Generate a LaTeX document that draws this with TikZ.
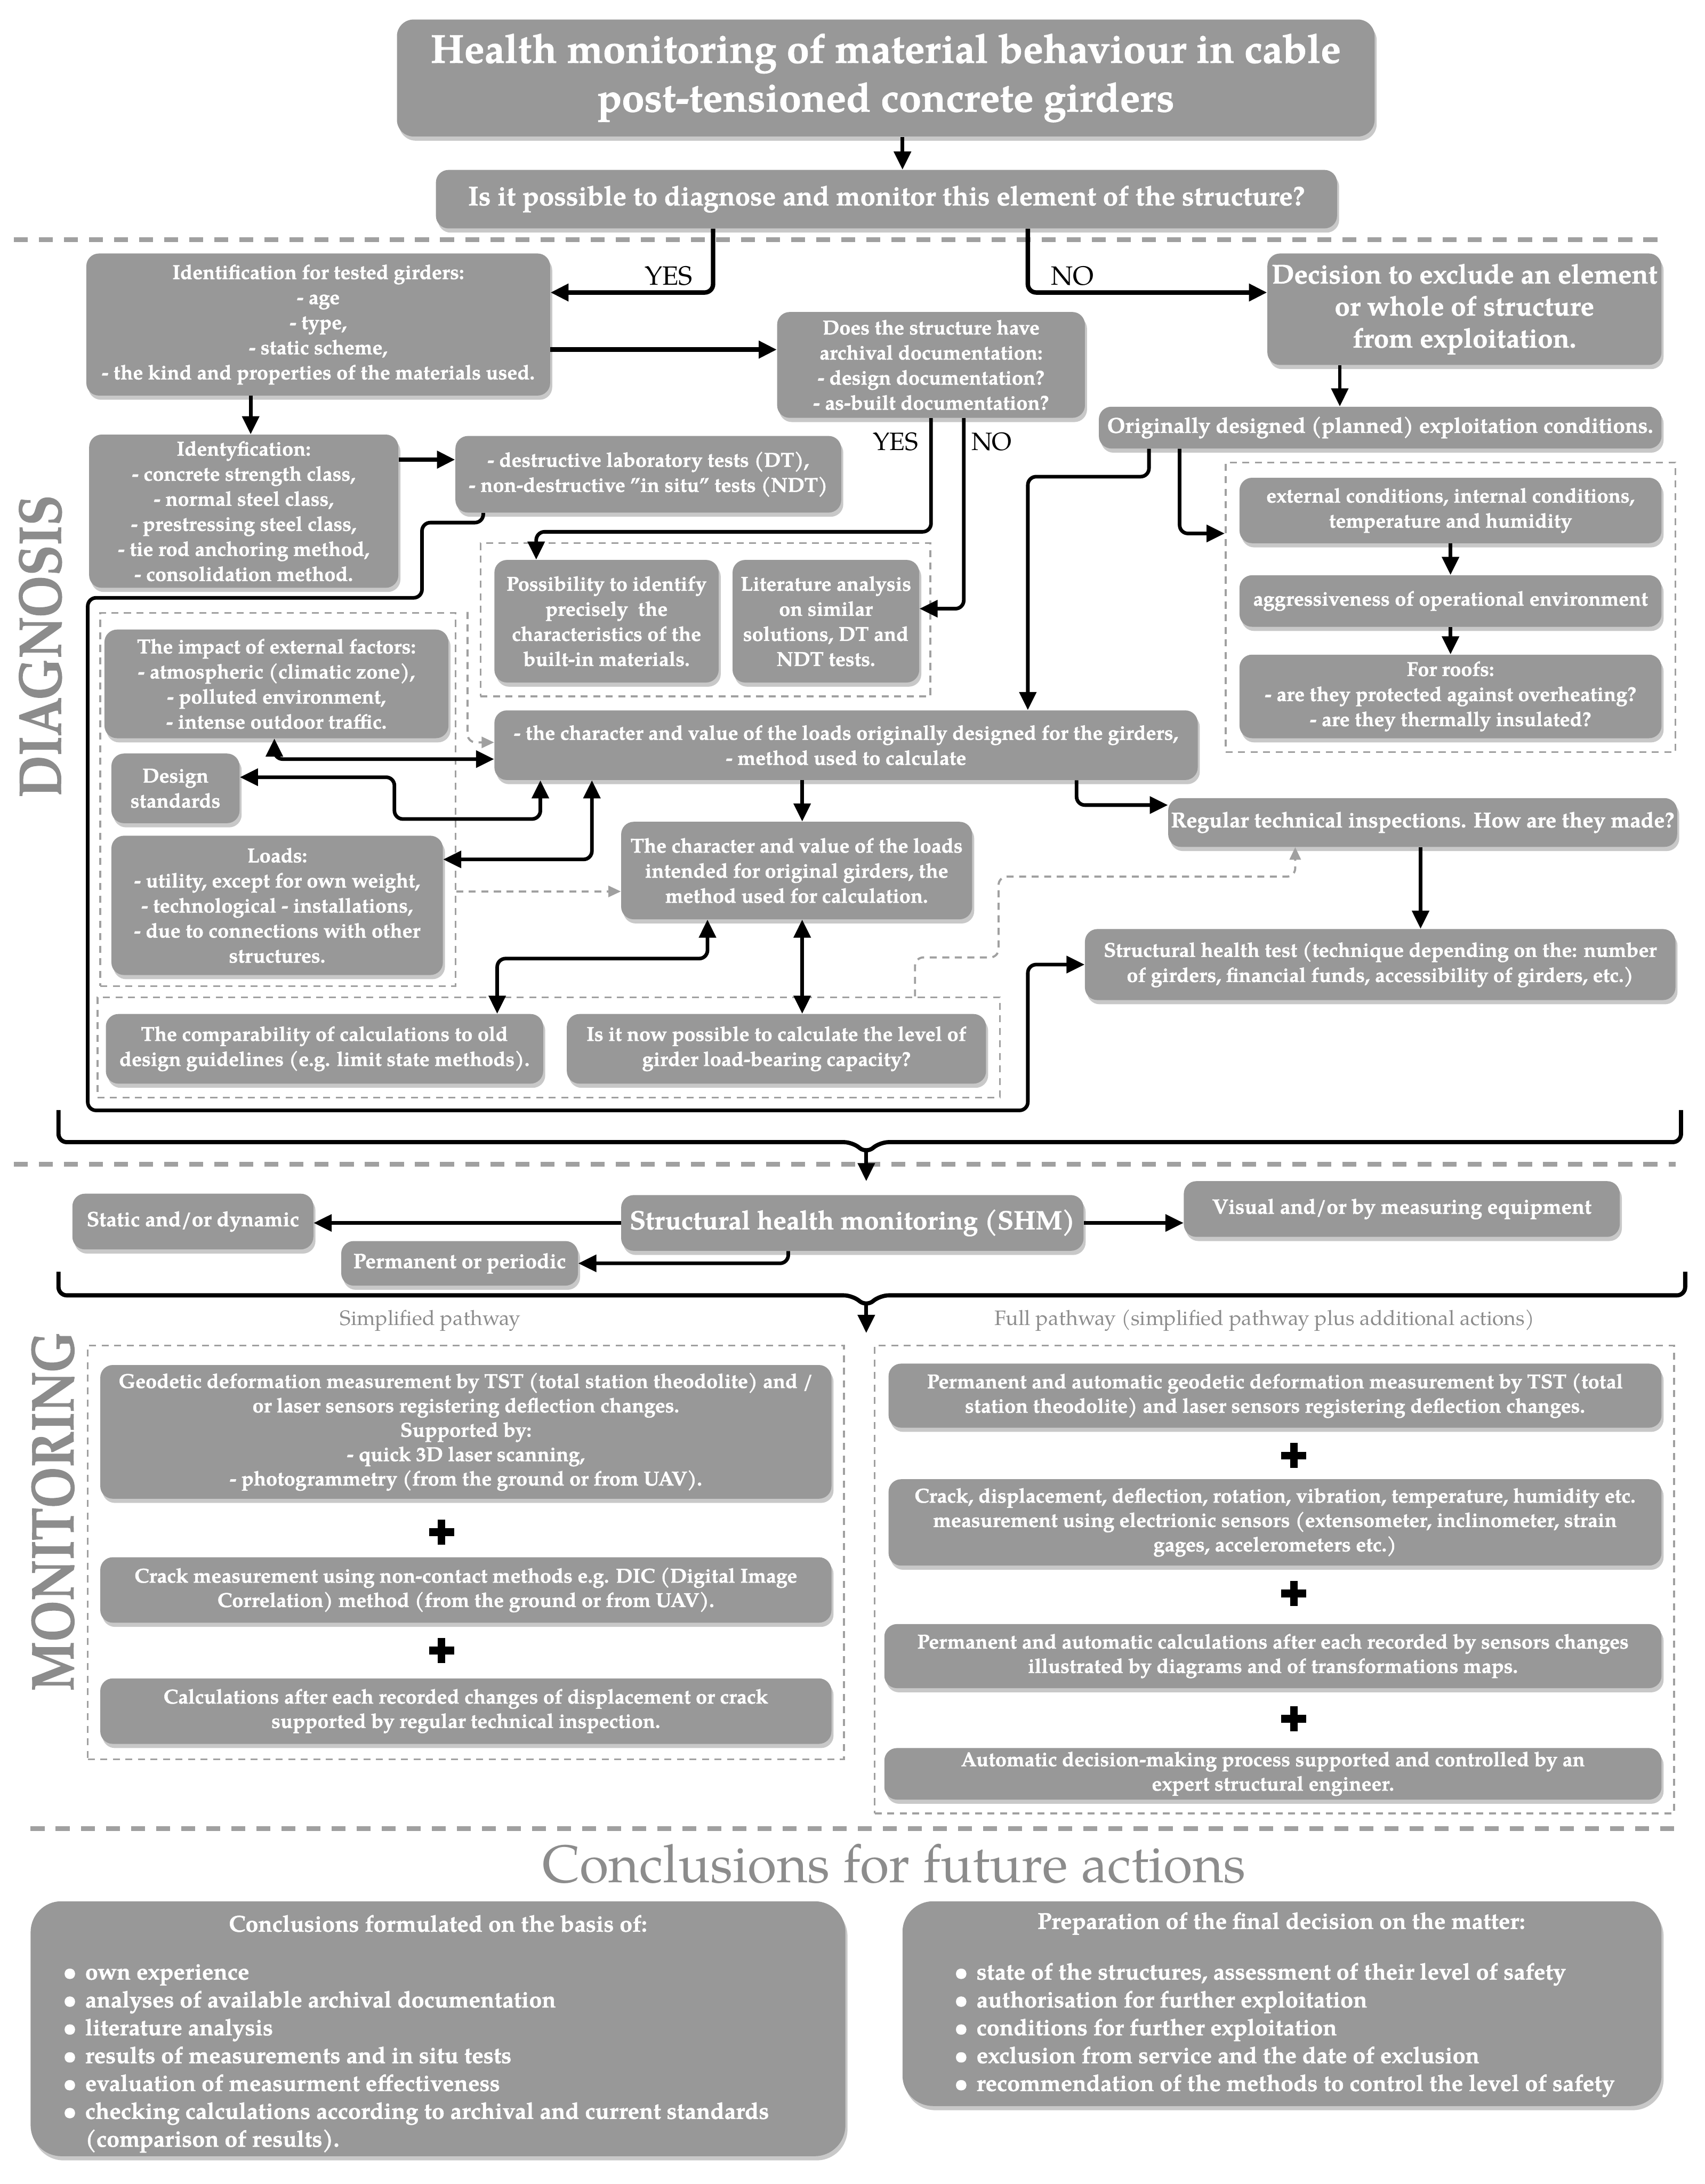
\documentclass[tikz,border=0pt]{standalone}
\usepackage{fontspec}
\setmainfont{texgyrepagella}[Extension=.otf, UprightFont=*-regular, BoldFont=*-bold, ItalicFont=*-italic, BoldItalicFont=*-bolditalic, BoldFeatures={FakeBold=1.2}]
\usetikzlibrary{arrows.meta,shadows,calc}
\definecolor{boxgray}{RGB}{152,152,152}
\definecolor{shadowgray}{RGB}{200,200,200}
\definecolor{sepgray}{RGB}{160,160,160}
\definecolor{labgray}{RGB}{140,140,140}
\newcommand\fs[2]{\fontsize{#1}{#2}\selectfont}
\newcommand\boxat[7]{\node[box,minimum width={(#4)-(#2)},minimum height={(#5)-(#3)},#6] (#1) at ({((#2)+(#4))/2},{((#3)+(#5))/2}) {#7};}
\newcommand\grpat[5]{\node[grp,minimum width={(#4)-(#2)},minimum height={(#5)-(#3)},inner sep=0pt] (#1) at ({((#2)+(#4))/2},{((#3)+(#5))/2}) {};}
\newcommand\plusmark{\makebox[0pt]{\rule[-9pt]{5.5pt}{18pt}}\makebox[0pt]{\rule[-2.75pt]{18pt}{5.5pt}}}
\tikzset{
 box/.style={rounded corners=9pt, fill=boxgray, text=white, align=center, inner sep=2pt,
   font=\bfseries\fs{14.5}{18},
   drop shadow={shadow xshift=1.5pt, shadow yshift=-3pt, fill=shadowgray, opacity=1}},
 grp/.style={draw=sepgray, line width=1.3pt, dash pattern=on 5pt off 4pt},
 sep/.style={draw=sepgray, line width=3.5pt, dash pattern=on 10pt off 8pt},
 con/.style={draw=black, line width=2.6pt, rounded corners=6pt},
 arr/.style={con, -{Triangle[length=13pt,width=12pt]}},
 darr/.style={con, {Triangle[length=13pt,width=12pt]}-{Triangle[length=13pt,width=12pt]}},
 garr/.style={draw=sepgray, line width=1.5pt, dash pattern=on 5pt off 4pt, rounded corners=6pt, -{Triangle[length=9pt,width=8pt]}},
 lab/.style={font=\fs{18}{20}, text=black, inner sep=0pt},
 glab/.style={font=\fs{15}{18}, text=labgray, inner sep=0pt},
 ctext/.style={font=\bfseries\fs{16.5}{20}, text=white, inner sep=0pt},
 plus/.style={inner sep=0pt, text=black},
}
\begin{document}
\begin{tikzpicture}[x=1pt,y=-1pt]
\fill[white] (0,0) rectangle (1224,1568);
\useasboundingbox (0,0) rectangle (1224,1568);

% separators
\draw[sep] (10,172) -- (1190,172);
\draw[sep] (10,836) -- (1203,836);
\draw[sep] (22,1313) -- (1203,1313);

% side labels
\node[text=labgray, rotate=90, inner sep=0pt] (diag) at (29,464) {\resizebox{217pt}{30pt}{\bfseries DIAGNOSIS}};
\node[text=labgray, rotate=90, inner sep=0pt] (moni) at (38,1085) {\resizebox{258pt}{30pt}{\bfseries MONITORING}};

% group boxes
\grpat{gPoss}{345}{390}{668}{500}
\grpat{gLeft}{72}{440}{327}{708}
\grpat{gBot}{70}{716}{718}{788}
\grpat{gRight}{880}{332}{1203}{540}
\grpat{gSimp}{63}{966}{606}{1263}
\grpat{gFull}{628}{966}{1202}{1302}

% boxes
\boxat{title}{285}{14}{987}{98}{font=\bfseries\fs{29}{35}, rounded corners=12pt}{Health monitoring of material behaviour in cable\\post-tensioned concrete girders}
\boxat{q}{313}{122}{960}{164}{font=\bfseries\fs{19.5}{22}}{Is it possible to diagnose and monitor this element of the structure?}
\boxat{id1}{62}{182}{395}{284}{}{Identification for tested girders:\\- age\\- type,\\- static scheme,\\- the kind and properties of the materials used.}
\boxat{arch}{558}{224}{779}{300}{}{Does the structure have\\archival documentation:\\- design documentation?\\- as-built documentation?}
\boxat{dec}{910}{182}{1193}{262}{font=\bfseries\fs{19.5}{23}}{Decision to exclude an element\\or whole of structure\\from exploitation.}
\boxat{orig}{789}{292}{1193}{322}{font=\bfseries\fs{15.5}{18}}{Originally designed (planned) exploitation conditions.}
\boxat{id2}{64}{312}{286}{422}{}{Identyfication:\\- concrete strength class,\\- normal steel class,\\- prestressing steel class,\\- tie rod anchoring method,\\- consolidation method.}
\boxat{dt}{327}{313}{604}{368}{}{- destructive laboratory tests (DT),\\- non-destructive "in situ" tests (NDT)}
\boxat{poss}{355}{402}{516}{490}{}{Possibility to identify\\precisely\ \ the\\characteristics of the\\built-in materials.}
\boxat{lit}{526}{402}{660}{490}{}{Literature analysis\\on similar\\solutions, DT and\\NDT tests.}
\boxat{impact}{75}{452}{322}{530}{}{The impact of external factors:\\- atmospheric (climatic zone),\\- polluted environment,\\- intense outdoor traffic.}
\boxat{design}{80}{541}{172}{591}{}{Design\\standards}
\boxat{loads}{80}{600}{318}{700}{}{Loads:\\- utility, except for own weight,\\- technological - installations,\\- due to connections with other\\structures.}
\boxat{lorig}{355}{510}{860}{560}{}{- the character and value of the loads originally designed for the girders,\\- method used to calculate}
\boxat{charc}{446}{590}{698}{660}{}{The character and value of the loads\\intended for original girders, the\\method used for calculation.}
\boxat{reg}{840}{573}{1203}{608}{font=\bfseries\fs{15.5}{18}}{Regular technical inspections. How are they made?}
\boxat{sht}{779}{667}{1203}{718}{}{Structural health test (technique depending on the: number\\of girders, financial funds, accessibility of girders, etc.)}
\boxat{comp}{76}{728}{390}{778}{}{The comparability of calculations to old\\design guidelines (e.g. limit state methods).}
\boxat{isnow}{407}{728}{708}{778}{}{Is it now possible to calculate the level of\\girder load-bearing capacity?}
\boxat{extc}{890}{343}{1193}{390}{}{external conditions, internal conditions,\\temperature and humidity}
\boxat{aggr}{890}{413}{1193}{450}{}{aggressiveness of operational environment}
\boxat{roofs}{890}{470}{1193}{530}{}{For roofs:\\- are they protected against overheating?\\- are they thermally insulated?}
\boxat{shm}{446}{858}{778}{898}{font=\bfseries\fs{19}{22}}{Structural health monitoring (SHM)}
\boxat{stat}{52}{857}{225}{897}{font=\bfseries\fs{15}{18}}{Static and/or dynamic}
\boxat{vis}{850}{848}{1163}{888}{font=\bfseries\fs{15}{18}}{Visual and/or by measuring equipment}
\boxat{perm}{245}{891}{415}{923}{font=\bfseries\fs{15}{18}}{Permanent or periodic}
\boxat{geo}{72}{980}{597}{1076}{font=\bfseries\fs{14.5}{17.5}}{Geodetic deformation measurement by TST (total station theodolite) and /\\or laser sensors registering deflection changes.\\Supported by:\\- quick 3D laser scanning,\\- photogrammetry (from the ground or from UAV).}
\boxat{crack}{72}{1118}{597}{1165}{font=\bfseries\fs{14.5}{17.5}}{Crack measurement using non-contact methods e.g. DIC (Digital Image\\Correlation) method (from the ground or from UAV).}
\boxat{calc}{72}{1205}{597}{1252}{font=\bfseries\fs{14.5}{17.5}}{Calculations after each recorded changes of displacement or crack\\supported by regular technical inspection.}
\boxat{pgeo}{638}{979}{1193}{1025}{font=\bfseries\fs{14.5}{17.5}}{Permanent and automatic geodetic deformation measurement by TST (total\\station theodolite) and laser sensors registering deflection changes.}
\boxat{cdisp}{638}{1062}{1193}{1124}{font=\bfseries\fs{14.5}{17.5}}{Crack, displacement, deflection, rotation, vibration, temperature, humidity etc.\\measurement using electrionic sensors (extensometer, inclinometer, strain\\gages, accelerometers etc.)}
\boxat{pcalc}{635}{1166}{1193}{1212}{font=\bfseries\fs{14.5}{17.5}}{Permanent and automatic calculations after each recorded by sensors changes\\illustrated by diagrams and of transformations maps.}
\boxat{auto}{635}{1255}{1193}{1292}{font=\bfseries\fs{14.5}{17.5}}{Automatic decision-making process supported and controlled by an\\expert structural engineer.}
\boxat{concl}{22}{1365}{607}{1548}{rounded corners=22pt}{}
\boxat{prep}{648}{1365}{1193}{1512}{rounded corners=22pt}{}

% conclusion texts
\node[ctext] (conclt) at (314.5,1381) {Conclusions formulated on the basis of:};
\node[ctext, anchor=north west] (concll) at (45,1407) {\begin{tabular}{@{}p{16pt}@{}l@{}}
\textbullet & own experience\\
\textbullet & analyses of available archival documentation\\
\textbullet & literature analysis\\
\textbullet & results of measurements and in situ tests\\
\textbullet & evaluation of measurment effectiveness\\
\textbullet & checking calculations according to archival and current standards\\
 & (comparison of results).
\end{tabular}};
\node[ctext] (prept) at (920,1381) {Preparation of the final decision on the matter:};
\node[ctext, anchor=north west] (prepl) at (685,1407) {\begin{tabular}{@{}p{16pt}@{}l@{}}
\textbullet & state of the structures, assessment of their level of safety\\
\textbullet & authorisation for further exploitation\\
\textbullet & conditions for further exploitation\\
\textbullet & exclusion from service and the date of exclusion\\
\textbullet & recommendation of the methods to control the level of safety
\end{tabular}};

% headings and labels
\node[text=labgray, font=\fs{38}{40}, inner sep=0pt] (conh) at (642,1338) {Conclusions for future actions};
\node[glab] (simp) at (309,948) {Simplified pathway};
\node[glab] (full) at (908,948) {Full pathway (simplified pathway plus additional actions)};
\node[lab, font=\fs{19}{20}] (yes1) at (480,198) {YES};
\node[lab, font=\fs{19}{20}] (no1) at (770,198) {NO};
\node[lab] (yes2) at (643,317) {YES};
\node[lab] (no2) at (712,317) {NO};

% plus signs
\node[plus] (pl1) at (317,1100) {\plusmark};
\node[plus] (pl2) at (317,1185) {\plusmark};
\node[plus] (pl3) at (929,1045) {\plusmark};
\node[plus] (pl4) at (929,1144) {\plusmark};
\node[plus] (pl5) at (929,1234) {\plusmark};

% connectors
\coordinate (c1) at ([xshift=12pt]title.south);
\draw[arr] (c1) -- (c1 |- q.north);
\coordinate (c2) at ([xshift=-124.5pt]q.south);
\coordinate (c2e) at ([yshift=23pt]id1.east);
\draw[arr, line width=3.2pt] (c2) |- (c2e);
\coordinate (c3) at ([xshift=101.5pt]q.south);
\coordinate (c3e) at ([yshift=12pt]dec.west);
\draw[arr, line width=3.2pt] (c3) |- (c3e);
\coordinate (c4) at ([yshift=-18pt]id1.east);
\draw[arr, line width=3.2pt] (c4) -- (c4 -| arch.west);
\coordinate (c5) at ([xshift=-48.5pt]id1.south);
\draw[arr] (c5) -- (c5 |- id2.north);
\coordinate (c6) at ([yshift=37pt]id2.east);
\draw[arr, line width=3.2pt] (c6) -- (c6 -| dt.west);
\coordinate (c7) at ([xshift=-89.5pt]dec.south);
\draw[arr] (c7) -- (c7 |- orig.north);
\coordinate (c8) at ([xshift=-50.5pt]poss.north);
\draw[arr] (arch.south) |- ([yshift=20pt]c8) -- (c8);
\coordinate (c9) at ([yshift=9pt]lit.east);
\draw[arr] ([xshift=23.5pt]arch.south) |- (c9);
\draw[arr] ([xshift=-118.5pt]dt.south) -- ++(0,7) -- ++(-44,0) -- ++(0,54) -- ++(-240,0) -- ++(0,368) -- ++(675,0) |- (sht.west);
\coordinate (c11) at ([xshift=130.5pt]lorig.north);
\draw[arr] ([xshift=-166pt]orig.south) -- ++(0,20) -| (c11);
\coordinate (c12) at ([yshift=53pt]gRight.west);
\draw[arr] ([xshift=-144pt]orig.south) |- (c12);
\draw[arr] (extc.south) -- (aggr.north);
\draw[arr] (aggr.south) -- (roofs.north);
\coordinate (c15) at ([yshift=-10pt]lorig.west);
\draw[darr] ([xshift=-1.5pt]impact.south) |- (c15);
\coordinate (c16) at ([xshift=-219.5pt]lorig.south);
\draw[darr] ([yshift=8pt]design.east) -- ++(111,0) -- ++(0,30) -| (c16);
\coordinate (c17) at ([xshift=-182.5pt]lorig.south);
\draw[darr] ([yshift=33pt]loads.east) -| (c17);
\coordinate (c18) at ([xshift=-31.5pt]lorig.south);
\draw[arr] (c18) -- (c18 |- charc.north);
\coordinate (c19) at ([yshift=12.5pt]reg.west);
\draw[arr] ([xshift=165.5pt]lorig.south) |- (c19);
\coordinate (c20) at ([xshift=-1.5pt]reg.south);
\draw[arr] (c20) -- (c20 |- sht.north);
\coordinate (c21) at ([xshift=124pt]comp.north);
\draw[darr] ([xshift=-64pt]charc.south) -- ++(0,28) -| (c21);
\coordinate (c22) at ([xshift=4pt]charc.south);
\draw[darr] (c22) -- (c22 |- isnow.north);
\coordinate (c23) at ([yshift=-66pt]gLeft.east);
\draw[garr] (c23) -- (c23 -| charc.west);
\coordinate (c24) at ([xshift=-91.5pt]reg.south);
\draw[garr] ([xshift=263pt]gBot.north) -- ++(0,-28) -- ++(60,0) -- ++(0,-58) -| (c24);
\coordinate (c25) at ([yshift=2pt]lorig.west);
\draw[garr] ([xshift=8pt]gLeft.north east) |- (c25);

% braces
\coordinate (b1) at (622,848);
\draw[con, line width=3pt] (42,797) -- (42,820) -- (612,820) -- (622,828) -- (632,820) -- (1207,820) -- (1207,797);
\draw[arr] (622,826) -- (b1);
\coordinate (b2) at (622,957);
\draw[con, line width=3pt] (42,913) -- (42,930) -- (612,930) -- (622,938) -- (632,930) -- (1210,930) -- (1210,913);
\draw[arr] (622,936) -- (b2);

% SHM connectors
\draw[arr] (shm.west) -- (shm.west -| stat.east);
\draw[arr] (shm.east) -- (shm.east -| vis.west);
\draw[arr] ([xshift=-46pt]shm.south) |- (perm.east);
\end{tikzpicture}
\end{document}
